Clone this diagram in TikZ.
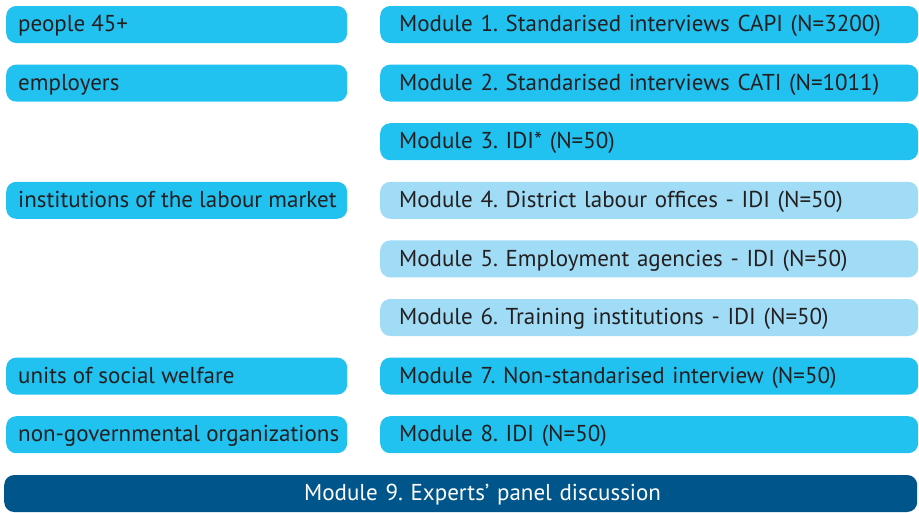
\documentclass[tikz,border=0pt]{standalone}
\usepackage{fontspec}
\setmainfont{PT Sans}
\usepackage{tikz}
\usetikzlibrary{positioning}
\definecolor{cyanbox}{HTML}{21C1F0}
\definecolor{palebox}{HTML}{A0DCF5}
\definecolor{navybox}{HTML}{00558A}
\definecolor{inktext}{HTML}{231F20}
\frenchspacing
% left labels keep one line even when they reach the box edge
\newcommand{\who}[1]{\makebox[317pt][l]{#1}}
\tikzset{
  group/.style={rectangle, rounded corners=10pt, fill=cyanbox, text=inktext,
    minimum width=341pt, minimum height=37pt, inner xsep=12pt, inner ysep=0pt,
    text height=17pt, text depth=2.6pt,
    anchor=west, font=\fontsize{23}{26}\selectfont},
  module/.style={group, minimum width=538pt, text width=500pt, inner xsep=19pt,
    align=left},
  idimod/.style={module, fill=palebox},
  % panel text sits under the module column, not mid-page
  panel/.style={module, fill=navybox, text=white, minimum width=913pt,
    text width=875pt, execute at begin node={\hspace*{281pt}}}
}

\begin{document}
\begin{tikzpicture}[x=1pt, y=-1pt]
            \useasboundingbox (0,0) rectangle (919,512);
            % target groups on the left
            \node [group] (G1) at (6,24.5) {\who{people 45+}};
            \node [group] (G2) at (6,83.1) {\who{employers}};
            \node [group] (G4) at (6,200.3) {\who{institutions of the labour market}};
            \node [group] (G7) at (6,376.1) {\who{units of social welfare}};
            \node [group] (G8) at (6,434.7) {\who{non-governmental organizations}};
            % research modules on the right
            \node [module] (M1) at (380,24.5) {Module 1. Standarised interviews CAPI (N=3200)};
            \node [module] (M2) at (380,83.1) {Module 2. Standarised interviews CATI (N=1011)};
            \node [module] (M3) at (380,141.7) {Module 3. IDI* (N=50)};
            \node [idimod] (M4) at (380,200.3) {Module 4. District labour offices - IDI (N=50)};
            \node [idimod] (M5) at (380,258.9) {Module 5. Employment agencies - IDI (N=50)};
            \node [idimod] (M6) at (380,317.5) {Module 6. Training institutions - IDI (N=50)};
            \node [module] (M7) at (380,376.1) {Module 7. Non-standarised interview (N=50)};
            \node [module] (M8) at (380,434.7) {Module 8. IDI (N=50)};
            % panel along the bottom
            \node [panel] (M9) at (4,493.5) {Module 9. Experts' panel discussion};
        \end{tikzpicture}
\end{document}
